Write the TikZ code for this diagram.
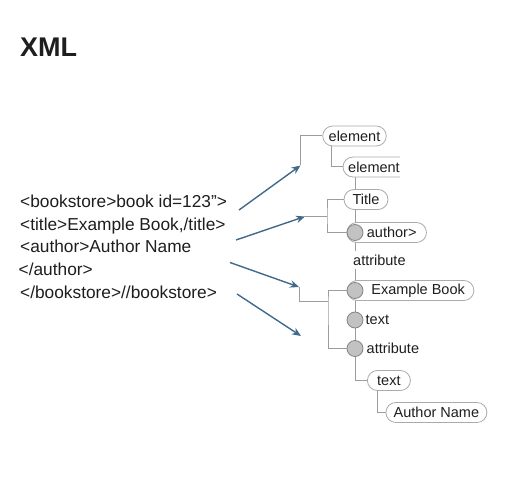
\documentclass[tikz,border=0pt]{standalone}
\usepackage{fontspec}
\setmainfont{Liberation Sans}
\usetikzlibrary{arrows.meta,backgrounds}
\definecolor{arrowblue}{HTML}{41698B}
\definecolor{treegray}{HTML}{9C9C9C}
\definecolor{pillgray}{HTML}{ABABAB}
\definecolor{dotfill}{HTML}{C2C2C2}
\definecolor{inkgray}{HTML}{1E1E1E}

\begin{document}
\begin{tikzpicture}[x=1pt,y=-1pt,
  pill/.style={draw=pillgray, line width=0.8pt, fill=white, rounded corners=10pt,
    minimum height=20pt, inner xsep=6pt, inner ysep=0pt, text=inkgray,
    font=\fontsize{14.5}{16}\selectfont},
  tag/.style={inner sep=0pt, text=inkgray, font=\fontsize{14.5}{16}\selectfont},
  codeline/.style={anchor=base west, inner sep=0pt, text=inkgray,
    font=\fontsize{17.3}{20}\selectfont},
  bullet/.style={circle, draw=treegray!85!black, fill=dotfill, line width=0.8pt,
    minimum size=16pt, inner sep=0pt},
  treeline/.style={draw=treegray, line width=1pt},
  link/.style={draw=arrowblue, line width=1.4pt, -{Stealth[length=9pt,width=7.5pt]}}]

\useasboundingbox (0,0) rectangle (525,478);

% Title
\node[anchor=base west, inner sep=0pt, text=inkgray,
  font=\bfseries\fontsize{27}{30}\selectfont] (ttl) at (20,56.5) {XML};

% XML source lines
\node[codeline] (l1) at (20,207.5) {<bookstore>book id=123”>};
\node[codeline] (l2) at (20,230.5) {<title>Example Book,/title>};
\node[codeline] (l3) at (20,253) {<author>Author Name};
\node[codeline] (l4) at (18.5,275.5) {</author>};
\node[codeline] (l5) at (20,298.5) {</bookstore>//bookstore>};

% arrow ends and bracket corners
\coordinate (s1) at (239,210);
\coordinate (s2) at (236,240);
\coordinate (s3) at (230,262.5);
\coordinate (s4) at (237,294);
\coordinate (a1) at (300.5,165.5);
\coordinate (a2) at (305,216.5);
\coordinate (a3) at (299,287);
\coordinate (a4) at (301,336);
\coordinate (b2) at (327,216.5);
\coordinate (b3) at (328,302);
\coordinate (elBbase) at (355,177);

% tree nodes
\node[pill] (elA) at (354.5,136) {element};
\node[tag, anchor=west, inner xsep=5pt] (elB) at (343,167) {element};
\draw[draw=pillgray, line width=0.8pt, rounded corners=10pt]
  (400,157) -- (343,157) -- (343,177) -- (400,177); % open pill
\node[pill, minimum width=44pt] (tit) at (366,199.5) {Title};
\node[pill, anchor=west] (auth) at (346.5,232.5) {\hspace*{14pt}author>\hspace*{4pt}};
\node[bullet] (bulA) at (355,232.5) {};
\node[tag, anchor=west, inner ysep=3pt] (attA) at (353,260) {attribute};
\node[pill, anchor=west] (book) at (347,290.5) {\hspace*{18pt}Example Book\hspace*{3pt}};
\node[bullet] (bulB) at (355,290.5) {};
\node[bullet] (bulC) at (355,320) {};
\node[tag, anchor=west] (txtC) at (365.5,320) {text};
\node[bullet] (bulD) at (355,348.5) {};
\node[tag, anchor=west] (attD) at (366.5,348.5) {attribute};
\node[pill, anchor=west, minimum width=43pt] (txtE) at (367,380.5) {text};
\node[pill, anchor=west, minimum width=101pt] (name) at (385.5,412.5) {Author Name};

% connectors of the tree
\begin{scope}[on background layer]
\draw[treeline] (a1) |- (elA.west);
\draw[treeline] ([xshift=9pt]elA.south west) |- (elB.west);
\draw[treeline] (elBbase) -- (bulA);
\draw[treeline] (a2) -- (b2);
\draw[treeline] (tit.west) -| (b2) |- (bulA);
\draw[treeline] (bulA) -- (bulA |- attA.north);
\draw[treeline] (bulA |- attA.south) -- (bulB);
\draw[treeline] (bulB) -- (bulD);
\draw[treeline] (a3) |- (b3);
\draw[treeline] (bulB) -| (b3) |- (bulD);
\draw[treeline] (bulD) |- (txtE.west);
\draw[treeline] ([xshift=10pt]txtE.south west) |- (name.west);
\end{scope}

% arrows from source to tree
\draw[link] (s1) -- (a1);
\draw[link] (s2) -- (a2);
\draw[link] (s3) -- (a3);
\draw[link] (s4) -- (a4);

\end{tikzpicture}
\end{document}
